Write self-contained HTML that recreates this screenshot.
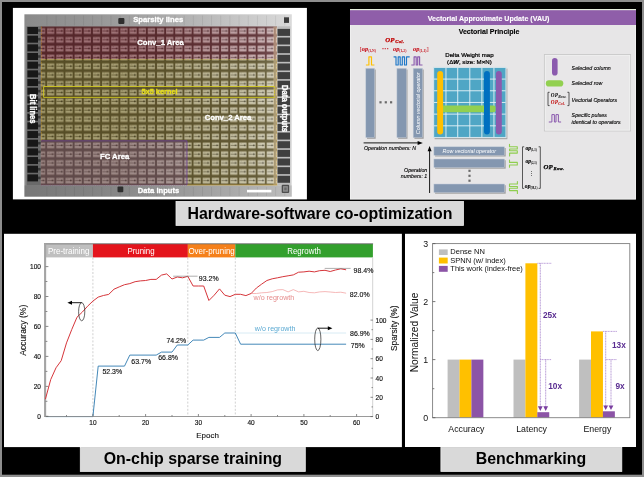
<!DOCTYPE html>
<html>
<head>
<meta charset="utf-8">
<title>Figure</title>
<style>
html,body{margin:0;padding:0;background:#000;}
body{width:644px;height:477px;overflow:hidden;position:relative;font-family:"Liberation Sans",sans-serif;}
svg{position:absolute;left:0;top:0;display:block;will-change:transform;}
text{font-family:"Liberation Sans",sans-serif;}
.ser{font-family:"Liberation Serif",serif;}
</style>
</head>
<body>
<svg width="644" height="477" viewBox="0 0 644 477">
<defs>
<pattern id="pr" patternUnits="userSpaceOnUse" x="37.05" y="26.65" width="9.15" height="8.8"><rect width="9.15" height="8.8" fill="#54272a"/><rect x="1.0" y="1.55" width="7.1" height="5.7" fill="#996b6f"/><rect x="1.3" y="3.8" width="6.5" height="1.1" fill="#6c3b3f"/><rect x="5.6" y="3.5" width="1.3" height="1.6" fill="#45191d"/><rect x="2.6" y="2.3" width="1.0" height="0.8" fill="#6c3b3f" opacity="0.6"/></pattern>
<pattern id="py" patternUnits="userSpaceOnUse" x="37.05" y="26.65" width="9.15" height="8.8"><rect width="9.15" height="8.8" fill="#574d26"/><rect x="1.0" y="1.55" width="7.1" height="5.7" fill="#a39a6e"/><rect x="1.3" y="3.8" width="6.5" height="1.1" fill="#6e653c"/><rect x="5.6" y="3.5" width="1.3" height="1.6" fill="#3e3618"/><rect x="2.6" y="2.3" width="1.0" height="0.8" fill="#6e653c" opacity="0.6"/></pattern>
<pattern id="pf" patternUnits="userSpaceOnUse" x="37.05" y="26.65" width="9.15" height="8.8"><rect width="9.15" height="8.8" fill="#5f4948"/><rect x="1.0" y="1.55" width="7.1" height="5.7" fill="#98827f"/><rect x="1.3" y="3.8" width="6.5" height="1.1" fill="#735d5b"/><rect x="5.6" y="3.5" width="1.3" height="1.6" fill="#4b3533"/><rect x="2.6" y="2.3" width="1.0" height="0.8" fill="#735d5b" opacity="0.6"/></pattern>
<linearGradient id="cg" x1="0" x2="1" y1="0" y2="0"><stop offset="0" stop-color="#8a8a8a"/><stop offset="0.3" stop-color="#999"/><stop offset="0.5" stop-color="#a8a8a8"/><stop offset="0.8" stop-color="#c6c6c6"/><stop offset="1" stop-color="#dadada"/></linearGradient>
<linearGradient id="cl" x1="0" x2="1" y1="0" y2="0"><stop offset="0" stop-color="#fff" stop-opacity="0"/><stop offset="0.5" stop-color="#fff" stop-opacity="0.02"/><stop offset="0.9" stop-color="#fff" stop-opacity="0.08"/><stop offset="1" stop-color="#fff" stop-opacity="0.2"/></linearGradient>
<filter id="cb" x="-2%" y="-2%" width="104%" height="104%"><feGaussianBlur stdDeviation="0.5"/></filter>
<pattern id="pw" patternUnits="userSpaceOnUse" x="37.05" y="26.65" width="9.15" height="8.8"><rect x="1.0" y="1.55" width="7.1" height="5.7" fill="#fff"/><rect x="1.6" y="3.9" width="5.9" height="0.9" fill="#000" opacity="0.35"/><rect x="5.6" y="3.5" width="1.3" height="1.6" fill="#000" opacity="0.5"/></pattern>
<linearGradient id="mg" gradientUnits="userSpaceOnUse" x1="40" x2="278" y1="0" y2="0"><stop offset="0" stop-color="#000"/><stop offset="0.35" stop-color="#080808"/><stop offset="0.7" stop-color="#383838"/><stop offset="1" stop-color="#707070"/></linearGradient>
<mask id="mm" maskUnits="userSpaceOnUse" x="38" y="24" width="244" height="166"><rect x="38" y="24" width="244" height="166" fill="url(#mg)"/></mask>
<clipPath id="cc"><rect x="40.8" y="26.6" width="236.2" height="158.4"/></clipPath>
<filter id="vb" x="-5%" y="-5%" width="110%" height="110%"><feGaussianBlur stdDeviation="0.25"/></filter>


</defs>
<!-- frame -->
<rect x="0" y="0" width="644" height="477" fill="#8e8e8e"/>
<rect x="2" y="2" width="640" height="472.7" fill="#000"/>
<!-- panels -->
<rect x="12.9" y="7.9" width="294" height="191.5" fill="#fff"/>
<rect x="350" y="9" width="286" height="190.4" fill="#e7e6e7"/>
<rect x="4" y="233.8" width="397.9" height="213.3" fill="#fff"/>
<rect x="405" y="233.8" width="231" height="213.2" fill="#fff"/>
<!-- label boxes -->
<rect x="176" y="201.4" width="287.5" height="24" fill="#d9d9d9" stroke="#eeeeee" stroke-width="0.8"/>
<rect x="80.3" y="447.5" width="225" height="23.9" fill="#d9d9d9" stroke="#eeeeee" stroke-width="0.8"/>
<rect x="440.9" y="447.5" width="180.9" height="23.9" fill="#d9d9d9" stroke="#eeeeee" stroke-width="0.8"/>
<g font-weight="bold" font-size="15.9" fill="#000" text-anchor="middle">
<text x="320" y="218.7">Hardware-software co-optimization</text>
<text x="192.9" y="464.3">On-chip sparse training</text>
<text x="531" y="464.3">Benchmarking</text>
</g>
<g>
<rect x="24.4" y="14.3" width="267.4" height="182.4" fill="url(#cg)"/>
<rect x="24.4" y="185.4" width="267.4" height="11.3" fill="#000" opacity="0.13"/>
<rect x="46.50" y="15.5" width="0.8" height="10" fill="#000" opacity="0.08"/>
<rect x="46.50" y="187" width="0.8" height="9" fill="#000" opacity="0.08"/>
<rect x="55.65" y="15.5" width="0.8" height="10" fill="#000" opacity="0.08"/>
<rect x="55.65" y="187" width="0.8" height="9" fill="#000" opacity="0.08"/>
<rect x="64.80" y="15.5" width="0.8" height="10" fill="#000" opacity="0.08"/>
<rect x="64.80" y="187" width="0.8" height="9" fill="#000" opacity="0.08"/>
<rect x="73.95" y="15.5" width="0.8" height="10" fill="#000" opacity="0.08"/>
<rect x="73.95" y="187" width="0.8" height="9" fill="#000" opacity="0.08"/>
<rect x="83.10" y="15.5" width="0.8" height="10" fill="#000" opacity="0.08"/>
<rect x="83.10" y="187" width="0.8" height="9" fill="#000" opacity="0.08"/>
<rect x="92.25" y="15.5" width="0.8" height="10" fill="#000" opacity="0.08"/>
<rect x="92.25" y="187" width="0.8" height="9" fill="#000" opacity="0.08"/>
<rect x="101.40" y="15.5" width="0.8" height="10" fill="#000" opacity="0.08"/>
<rect x="101.40" y="187" width="0.8" height="9" fill="#000" opacity="0.08"/>
<rect x="110.55" y="15.5" width="0.8" height="10" fill="#000" opacity="0.08"/>
<rect x="110.55" y="187" width="0.8" height="9" fill="#000" opacity="0.08"/>
<rect x="119.70" y="15.5" width="0.8" height="10" fill="#000" opacity="0.08"/>
<rect x="119.70" y="187" width="0.8" height="9" fill="#000" opacity="0.08"/>
<rect x="128.85" y="15.5" width="0.8" height="10" fill="#000" opacity="0.08"/>
<rect x="128.85" y="187" width="0.8" height="9" fill="#000" opacity="0.08"/>
<rect x="138.00" y="15.5" width="0.8" height="10" fill="#000" opacity="0.08"/>
<rect x="138.00" y="187" width="0.8" height="9" fill="#000" opacity="0.08"/>
<rect x="147.15" y="15.5" width="0.8" height="10" fill="#000" opacity="0.08"/>
<rect x="147.15" y="187" width="0.8" height="9" fill="#000" opacity="0.08"/>
<rect x="156.30" y="15.5" width="0.8" height="10" fill="#000" opacity="0.08"/>
<rect x="156.30" y="187" width="0.8" height="9" fill="#000" opacity="0.08"/>
<rect x="165.45" y="15.5" width="0.8" height="10" fill="#000" opacity="0.08"/>
<rect x="165.45" y="187" width="0.8" height="9" fill="#000" opacity="0.08"/>
<rect x="174.60" y="15.5" width="0.8" height="10" fill="#000" opacity="0.08"/>
<rect x="174.60" y="187" width="0.8" height="9" fill="#000" opacity="0.08"/>
<rect x="183.75" y="15.5" width="0.8" height="10" fill="#000" opacity="0.08"/>
<rect x="183.75" y="187" width="0.8" height="9" fill="#000" opacity="0.08"/>
<rect x="192.90" y="15.5" width="0.8" height="10" fill="#000" opacity="0.08"/>
<rect x="192.90" y="187" width="0.8" height="9" fill="#000" opacity="0.08"/>
<rect x="202.05" y="15.5" width="0.8" height="10" fill="#000" opacity="0.08"/>
<rect x="202.05" y="187" width="0.8" height="9" fill="#000" opacity="0.08"/>
<rect x="211.20" y="15.5" width="0.8" height="10" fill="#000" opacity="0.08"/>
<rect x="211.20" y="187" width="0.8" height="9" fill="#000" opacity="0.08"/>
<rect x="220.35" y="15.5" width="0.8" height="10" fill="#000" opacity="0.08"/>
<rect x="220.35" y="187" width="0.8" height="9" fill="#000" opacity="0.08"/>
<rect x="229.50" y="15.5" width="0.8" height="10" fill="#000" opacity="0.08"/>
<rect x="229.50" y="187" width="0.8" height="9" fill="#000" opacity="0.08"/>
<rect x="238.65" y="15.5" width="0.8" height="10" fill="#000" opacity="0.08"/>
<rect x="238.65" y="187" width="0.8" height="9" fill="#000" opacity="0.08"/>
<rect x="247.80" y="15.5" width="0.8" height="10" fill="#000" opacity="0.08"/>
<rect x="247.80" y="187" width="0.8" height="9" fill="#000" opacity="0.08"/>
<rect x="256.95" y="15.5" width="0.8" height="10" fill="#000" opacity="0.08"/>
<rect x="256.95" y="187" width="0.8" height="9" fill="#000" opacity="0.08"/>
<rect x="266.10" y="15.5" width="0.8" height="10" fill="#000" opacity="0.08"/>
<rect x="266.10" y="187" width="0.8" height="9" fill="#000" opacity="0.08"/>
<rect x="275.25" y="15.5" width="0.8" height="10" fill="#000" opacity="0.08"/>
<rect x="275.25" y="187" width="0.8" height="9" fill="#000" opacity="0.08"/>
<rect x="284.40" y="15.5" width="0.8" height="10" fill="#000" opacity="0.08"/>
<rect x="284.40" y="187" width="0.8" height="9" fill="#000" opacity="0.08"/>
<rect x="26.6" y="26.3" width="14.2" height="159" fill="#6a6a6a"/>
<rect x="27.4" y="27.00" width="10.6" height="7.0" fill="#181818"/>
<rect x="38" y="29.20" width="2.8" height="2.6" fill="#3a3a3a"/>
<rect x="27.4" y="35.67" width="10.6" height="7.0" fill="#181818"/>
<rect x="38" y="37.87" width="2.8" height="2.6" fill="#3a3a3a"/>
<rect x="27.4" y="44.34" width="10.6" height="7.0" fill="#181818"/>
<rect x="38" y="46.54" width="2.8" height="2.6" fill="#3a3a3a"/>
<rect x="27.4" y="53.01" width="10.6" height="7.0" fill="#181818"/>
<rect x="38" y="55.21" width="2.8" height="2.6" fill="#3a3a3a"/>
<rect x="27.4" y="61.68" width="10.6" height="7.0" fill="#181818"/>
<rect x="38" y="63.88" width="2.8" height="2.6" fill="#3a3a3a"/>
<rect x="27.4" y="70.35" width="10.6" height="7.0" fill="#181818"/>
<rect x="38" y="72.55" width="2.8" height="2.6" fill="#3a3a3a"/>
<rect x="27.4" y="79.02" width="10.6" height="7.0" fill="#181818"/>
<rect x="38" y="81.22" width="2.8" height="2.6" fill="#3a3a3a"/>
<rect x="27.4" y="87.69" width="10.6" height="7.0" fill="#181818"/>
<rect x="38" y="89.89" width="2.8" height="2.6" fill="#3a3a3a"/>
<rect x="27.4" y="96.36" width="10.6" height="7.0" fill="#181818"/>
<rect x="38" y="98.56" width="2.8" height="2.6" fill="#3a3a3a"/>
<rect x="27.4" y="105.03" width="10.6" height="7.0" fill="#181818"/>
<rect x="38" y="107.23" width="2.8" height="2.6" fill="#3a3a3a"/>
<rect x="27.4" y="113.70" width="10.6" height="7.0" fill="#181818"/>
<rect x="38" y="115.90" width="2.8" height="2.6" fill="#3a3a3a"/>
<rect x="27.4" y="122.37" width="10.6" height="7.0" fill="#181818"/>
<rect x="38" y="124.57" width="2.8" height="2.6" fill="#3a3a3a"/>
<rect x="27.4" y="131.04" width="10.6" height="7.0" fill="#181818"/>
<rect x="38" y="133.24" width="2.8" height="2.6" fill="#3a3a3a"/>
<rect x="27.4" y="139.71" width="10.6" height="7.0" fill="#181818"/>
<rect x="38" y="141.91" width="2.8" height="2.6" fill="#3a3a3a"/>
<rect x="27.4" y="148.38" width="10.6" height="7.0" fill="#181818"/>
<rect x="38" y="150.58" width="2.8" height="2.6" fill="#3a3a3a"/>
<rect x="27.4" y="157.05" width="10.6" height="7.0" fill="#181818"/>
<rect x="38" y="159.25" width="2.8" height="2.6" fill="#3a3a3a"/>
<rect x="27.4" y="165.72" width="10.6" height="7.0" fill="#181818"/>
<rect x="38" y="167.92" width="2.8" height="2.6" fill="#3a3a3a"/>
<rect x="27.4" y="174.39" width="10.6" height="7.0" fill="#181818"/>
<rect x="38" y="176.59" width="2.8" height="2.6" fill="#3a3a3a"/>
<rect x="277" y="26.3" width="13.3" height="159" fill="#bdbdbd"/>
<rect x="277.4" y="28.90" width="12.6" height="7.0" fill="#3f3f3f"/>
<rect x="277.4" y="37.54" width="12.6" height="7.0" fill="#3f3f3f"/>
<rect x="277.4" y="46.18" width="12.6" height="7.0" fill="#3f3f3f"/>
<rect x="277.4" y="54.82" width="12.6" height="7.0" fill="#3f3f3f"/>
<rect x="277.4" y="63.46" width="12.6" height="7.0" fill="#3f3f3f"/>
<rect x="277.4" y="72.10" width="12.6" height="7.0" fill="#3f3f3f"/>
<rect x="277.4" y="80.74" width="12.6" height="7.0" fill="#3f3f3f"/>
<rect x="277.4" y="89.38" width="12.6" height="7.0" fill="#3f3f3f"/>
<rect x="277.4" y="98.02" width="12.6" height="7.0" fill="#3f3f3f"/>
<rect x="277.4" y="106.66" width="12.6" height="7.0" fill="#3f3f3f"/>
<rect x="277.4" y="115.30" width="12.6" height="7.0" fill="#3f3f3f"/>
<rect x="277.4" y="123.94" width="12.6" height="7.0" fill="#3f3f3f"/>
<rect x="277.4" y="132.58" width="12.6" height="7.0" fill="#3f3f3f"/>
<rect x="277.4" y="141.22" width="12.6" height="7.0" fill="#3f3f3f"/>
<rect x="277.4" y="149.86" width="12.6" height="7.0" fill="#3f3f3f"/>
<rect x="277.4" y="158.50" width="12.6" height="7.0" fill="#3f3f3f"/>
<rect x="277.4" y="167.14" width="12.6" height="7.0" fill="#3f3f3f"/>
<rect x="277.4" y="175.78" width="12.6" height="7.0" fill="#3f3f3f"/>
<g clip-path="url(#cc)"><g filter="url(#cb)">
<rect x="38" y="24" width="242" height="35" fill="url(#pr)"/>
<rect x="38" y="59" width="242" height="129" fill="url(#py)"/>
<rect x="38" y="140.8" width="149" height="47" fill="url(#pf)"/>
<rect x="38" y="24" width="242" height="166" fill="url(#pw)" mask="url(#mm)"/>
</g></g>
<rect x="273.4" y="26.6" width="3.6" height="158.4" fill="#e8c890" opacity="0.45"/>
<rect x="40.8" y="26.3" width="236.9" height="158.9" fill="url(#cl)"/>
<path d="M41.3 59.4H276.8V185" fill="none" stroke="#c9a23a" stroke-width="0.7" stroke-dasharray="2 0.8" opacity="0.6"/>
<path d="M41.4 26.5V140.8" fill="none" stroke="#c9962e" stroke-width="0.8" stroke-dasharray="2.2 1" opacity="0.65"/>
<path d="M187 185H277.4" fill="none" stroke="#c9a23a" stroke-width="0.9" opacity="0.8"/>
<path d="M41 140.8H187V185" fill="none" stroke="#6b3e96" stroke-width="0.9" opacity="0.9"/>
<path d="M41 185.1H187" fill="none" stroke="#8a4a7a" stroke-width="0.7" stroke-dasharray="1.2 1" opacity="0.8"/>
<path d="M274.6 86.5H43.6V97.4H274.6" fill="none" stroke="#d6cc1e" stroke-width="0.9" opacity="0.95"/><path d="M274.6 86.5V97.4" fill="none" stroke="#d6cc1e" stroke-width="0.9" stroke-dasharray="1.5 1"/>
<rect x="118.3" y="18" width="6.1" height="6" rx="1" fill="#2e2e2e"/>
<rect x="117.5" y="186.6" width="5.8" height="5.6" rx="1" fill="#2e2e2e"/>
<rect x="284" y="17.3" width="5" height="5.6" fill="#3c3c3c"/>
<rect x="281.7" y="184.8" width="7.5" height="8.2" rx="1" fill="#4e4e4e"/><rect x="283" y="186.1" width="4.9" height="5.6" fill="#8e8e8e"/><rect x="284.3" y="187.5" width="2.3" height="2.8" fill="#6a6a6a"/>
<rect x="247" y="189.8" width="24.4" height="2.6" fill="#fff"/>
<g font-weight="bold" text-anchor="middle" stroke-width="0.3" stroke-linejoin="round" class="lb">
<text transform="translate(158.2 21.8) scale(1 1.04)" font-size="7.7" fill="#fff" stroke="#fff">Sparsity lines</text>
<text transform="translate(160.5 45.3) scale(1 1.04)" font-size="7.7" fill="#fff" stroke="#fff">Conv_1 Area</text>
<text transform="translate(228 120) scale(1 1.04)" font-size="7.7" fill="#fff" stroke="#fff">Conv_2 Area</text>
<text transform="translate(114.6 159) scale(1 1.04)" font-size="7.7" fill="#fff" stroke="#fff">FC Area</text>
<text transform="translate(158.5 193.4) scale(1 1.04)" font-size="7.6" fill="#fff" stroke="#fff">Data inputs</text>
<text transform="translate(159.5 94.2) scale(1 1.04)" font-size="7.4" fill="#e6de1c" stroke="#e6de1c">5x5 kernel</text>
<text transform="translate(30.2 108.8) rotate(90) scale(1 1.16)" font-size="7.6" fill="#fff" stroke="#fff">Bit lines</text>
<text transform="translate(281.6 108.5) rotate(90) scale(1 1.16)" font-size="7.7" fill="#fff" stroke="#fff">Data outputs</text>
</g>
</g>
<g>
<rect x="350.4" y="9.4" width="285.2" height="189.6" fill="none" stroke="#f2f2f2" stroke-width="0.8"/>
<rect x="350" y="9" width="286" height="1.2" fill="#e4eedc"/>
<rect x="350" y="10.2" width="286" height="14.8" fill="#8f5ea9"/>
<text x="488.6" y="20.7" font-weight="bold" font-size="7.1" fill="#fff" stroke="#fff" stroke-width="0.12" text-anchor="middle">Vectorial Approximate Update (VAU)</text>
<text x="489" y="33.8" font-weight="bold" font-size="7" fill="#000" stroke="#000" stroke-width="0.12" text-anchor="middle">Vectorial Principle</text>
<text class="ser" x="385.2" y="41.5" font-weight="bold" font-style="italic" font-size="6.8" fill="#c00000" stroke="#c00000" stroke-width="0.25" letter-spacing="0.25">OP<tspan font-size="4.7" dy="1.1" dx="0.6" letter-spacing="0.25">Col.</tspan></text>
<text class="ser" x="359.6" y="51.2" font-size="6.3" fill="#c8141e" stroke="#c8141e" stroke-width="0.12" text-anchor="start" font-weight="bold" font-style="italic"><tspan font-style="normal" font-weight="normal" font-size="6.7" stroke-width="0">[</tspan>op<tspan font-size="3.7" dy="1.0" font-style="normal" stroke-width="0">(1,N)</tspan><tspan dy="-1.0" font-style="normal" font-weight="normal" font-size="6.7" stroke-width="0"></tspan></text>
<text x="385.6" y="50.6" font-size="7" font-weight="bold" fill="#c8141e" text-anchor="middle" letter-spacing="0.1">···</text>
<text class="ser" x="393" y="51.2" font-size="6.3" fill="#c8141e" stroke="#c8141e" stroke-width="0.12" text-anchor="start" font-weight="bold" font-style="italic"><tspan font-style="normal" font-weight="normal" font-size="6.7" stroke-width="0"></tspan>op<tspan font-size="3.7" dy="1.0" font-style="normal" stroke-width="0">(1,2)</tspan><tspan dy="-1.0" font-style="normal" font-weight="normal" font-size="6.7" stroke-width="0"></tspan></text>
<text class="ser" x="413.1" y="51.2" font-size="6.3" fill="#c8141e" stroke="#c8141e" stroke-width="0.12" text-anchor="start" font-weight="bold" font-style="italic"><tspan font-style="normal" font-weight="normal" font-size="6.7" stroke-width="0"></tspan>op<tspan font-size="3.7" dy="1.0" font-style="normal" stroke-width="0">(1,1)</tspan><tspan dy="-1.0" font-style="normal" font-weight="normal" font-size="6.7" stroke-width="0">]</tspan></text>
<g fill="none" stroke-width="1.15" stroke-linejoin="round">
<path d="M365.9 65H368.9V56.8H371.5V65H374.4" stroke="#ffc000"/>
<path d="M393.6 56.8H396V65H398.2V56.8H400.2V65H402.3V56.8H404.5V65H406.5V56.8H409.7" stroke="#1f78c8"/>
<path d="M411.3 65H414.1V56.8H416.2V65H417.7V56.8H419.6V65H422.5" stroke="#8b5aae"/>
</g>
<rect x="367.0" y="69.5" width="8.7" height="69.3" fill="#8e8e8e" opacity="0.8"/><rect x="365.8" y="68.3" width="8.7" height="69.3" fill="#8497b0" stroke="#c3ccd9" stroke-width="0.5"/>
<rect x="398.09999999999997" y="69.5" width="9.4" height="69.3" fill="#8e8e8e" opacity="0.8"/><rect x="396.9" y="68.3" width="9.4" height="69.3" fill="#8497b0" stroke="#c3ccd9" stroke-width="0.5"/>
<rect x="414.4" y="69.5" width="9.3" height="69.3" fill="#8e8e8e" opacity="0.8"/><rect x="413.2" y="68.3" width="9.3" height="69.3" fill="#8497b0" stroke="#c3ccd9" stroke-width="0.5"/>
<rect x="379.4" y="101.2" width="2.2" height="2.2" fill="#6a6a6a"/>
<rect x="384.7" y="101.2" width="2.2" height="2.2" fill="#6a6a6a"/>
<rect x="390.0" y="101.2" width="2.2" height="2.2" fill="#6a6a6a"/>
<text transform="translate(419.6 134.2) rotate(-90)" font-size="5.4" font-style="italic" fill="#fff">Column vectorial operator</text>
<rect x="434.6" y="68.6" width="72.8" height="70.6" fill="#8c8c8c" opacity="0.7"/>
<rect x="433.6" y="67.4" width="72.4" height="70.1" fill="#4fa6c5" stroke="#d3e4eb" stroke-width="1.1"/>
<path d="M445.97 67.8V137.2 M434 79.08H505.6 M457.73 67.8V137.2 M434 90.77H505.6 M469.80 67.8V137.2 M434 102.45H505.6 M481.87 67.8V137.2 M434 114.13H505.6 M493.93 67.8V137.2 M434 125.82H505.6" stroke="#e6f4f8" stroke-width="0.9" fill="none"/>
<rect x="436.8" y="105.6" width="58.8" height="6.6" rx="2" fill="#92d050"/>
<rect x="437.2" y="70.9" width="5.9" height="63.6" rx="2.95" fill="#ffc000"/>
<rect x="484" y="70.9" width="5.9" height="63.6" rx="2.95" fill="#0070c0"/>
<rect x="495.9" y="70.9" width="5.9" height="63.6" rx="2.95" fill="#8b5aae"/>
<text x="469.4" y="57" font-size="6.1" fill="#000" text-anchor="middle" stroke="#000" stroke-width="0.22">Delta Weight map</text>
<text x="469.4" y="64" font-size="6.1" fill="#000" text-anchor="middle" stroke="#000" stroke-width="0.22">(Δ<tspan font-weight="bold" font-style="italic">W</tspan>, size: M×N)</text>
<path d="M363.6 142.9H419" stroke="#000" stroke-width="0.9" fill="none"/><path d="M422.8 142.9L417.6 140.9V144.9Z" fill="#000"/>
<path d="M429.6 193V150" stroke="#000" stroke-width="0.9" fill="none"/><path d="M429.6 146L427.6 151.2H431.6Z" fill="#000"/>
<text x="364" y="150.4" font-size="5.3" font-style="italic" fill="#000" stroke="#000" stroke-width="0.12">Operation numbers: N</text>
<text x="427.3" y="171.8" font-size="5.3" font-style="italic" fill="#000" text-anchor="end" stroke="#000" stroke-width="0.12">Operation</text>
<text x="427.3" y="178.1" font-size="5.3" font-style="italic" fill="#000" text-anchor="end" stroke="#000" stroke-width="0.12">numbers: 1</text>
<rect x="435.09999999999997" y="148.0" width="70.6" height="8.5" fill="#8e8e8e" opacity="0.8"/><rect x="433.9" y="146.8" width="70.6" height="8.5" fill="#8497b0" stroke="#c3ccd9" stroke-width="0.5"/>
<rect x="435.09999999999997" y="160.2" width="70.6" height="8.5" fill="#8e8e8e" opacity="0.8"/><rect x="433.9" y="159" width="70.6" height="8.5" fill="#8497b0" stroke="#c3ccd9" stroke-width="0.5"/>
<rect x="435.09999999999997" y="185.2" width="70.6" height="8.5" fill="#8e8e8e" opacity="0.8"/><rect x="433.9" y="184" width="70.6" height="8.5" fill="#8497b0" stroke="#c3ccd9" stroke-width="0.5"/>
<text x="469.3" y="152.8" font-size="5.35" font-style="italic" fill="#fff" text-anchor="middle">Row vectorial operator</text>
<rect x="468.4" y="169.70000000000002" width="2.2" height="2.2" fill="#6a6a6a"/>
<rect x="468.4" y="174.70000000000002" width="2.2" height="2.2" fill="#6a6a6a"/>
<rect x="468.4" y="179.6" width="2.2" height="2.2" fill="#6a6a6a"/>
<g fill="none" stroke="#8fce4e" stroke-width="1.1" stroke-linejoin="round" stroke-linecap="round">
<path d="M509.5 144.3V146.7H517.3V149H509.6V150.8H517.3V153.1H509.6V156"/>
<path d="M509.5 160V162.4H517.3V165H509.5V167.2"/>
<path d="M517.4 181.6V184H509.5V186.5H517.4V188.2H509.5V190.6H517.4V193.5"/>
</g>
<path d="M524.2 146.8H522.5V188.4H524.2M538.6 146.8H540.3V188.4H538.6" fill="none" stroke="#333" stroke-width="0.8"/>
<text class="ser" x="531.2" y="149.8" font-size="5.6" fill="#000" stroke="#000" stroke-width="0.12" text-anchor="middle" font-weight="bold" font-style="italic"><tspan font-style="normal" font-weight="normal" font-size="6.0" stroke-width="0"></tspan>op<tspan font-size="3.0" dy="1.0" font-style="normal" stroke-width="0">(1,1)</tspan><tspan dy="-1.0" font-style="normal" font-weight="normal" font-size="6.0" stroke-width="0"></tspan></text>
<text class="ser" x="531.2" y="163.3" font-size="5.6" fill="#000" stroke="#000" stroke-width="0.12" text-anchor="middle" font-weight="bold" font-style="italic"><tspan font-style="normal" font-weight="normal" font-size="6.0" stroke-width="0"></tspan>op<tspan font-size="3.0" dy="1.0" font-style="normal" stroke-width="0">(2,1)</tspan><tspan dy="-1.0" font-style="normal" font-weight="normal" font-size="6.0" stroke-width="0"></tspan></text>
<text class="ser" x="531.2" y="188.3" font-size="5.6" fill="#000" stroke="#000" stroke-width="0.12" text-anchor="middle" font-weight="bold" font-style="italic"><tspan font-style="normal" font-weight="normal" font-size="6.0" stroke-width="0"></tspan>op<tspan font-size="3.0" dy="1.0" font-style="normal" stroke-width="0">(M,1)</tspan><tspan dy="-1.0" font-style="normal" font-weight="normal" font-size="6.0" stroke-width="0"></tspan></text>
<text x="531.2" y="175" font-size="5" fill="#000" text-anchor="middle">⋮</text>
<text class="ser" x="543.4" y="168.8" font-weight="bold" font-style="italic" font-size="6.8" fill="#000" stroke="#000" stroke-width="0.25" letter-spacing="0.25">OP<tspan font-size="4.7" dy="1.3" dx="0.6" letter-spacing="0.25">Row.</tspan></text>
<rect x="544.4" y="54.5" width="86.2" height="76.5" fill="#e8e7e8" stroke="#c9c9c9" stroke-width="0.9"/><rect x="545.3" y="55.4" width="84.4" height="74.7" fill="none" stroke="#f1f1f1" stroke-width="0.7"/>
<rect x="552" y="57.9" width="5.6" height="17.6" rx="2.8" fill="#8b5aae"/>
<rect x="545.8" y="80.3" width="17.5" height="6.2" rx="3.1" fill="#92d050"/>
<g font-size="5.3" font-style="italic" fill="#000" stroke="#000" stroke-width="0.12">
<text x="571.6" y="69.5">Selected column</text>
<text x="571.6" y="84.9">Selected row</text>
<text x="571.6" y="101.6">Vectorial Operators</text>
<text x="571.6" y="117.4">Specific pulses</text>
<text x="571.6" y="123.6">identical to operators</text>
</g>
<path d="M549.6 92.3H548V105.6H549.6M567.4 92.3H569V105.6H567.4" fill="none" stroke="#333" stroke-width="0.8"/>
<text class="ser" x="550.8" y="97" font-weight="bold" font-style="italic" font-size="5.2" fill="#000" letter-spacing="0.2">OP<tspan font-size="3.8" dy="0.9">Row.</tspan></text>
<text class="ser" x="550.8" y="103.9" font-weight="bold" font-style="italic" font-size="5.2" fill="#c00000" letter-spacing="0.2">OP<tspan font-size="3.8" dy="0.9">Col.</tspan></text>
<path d="M548.8 122H551.9V114.6H554.4V122H556V114.6H558.4V122H561.1" fill="none" stroke="#8b5aae" stroke-width="1" stroke-linejoin="round"/>
</g>
<g>
<rect x="45.4" y="243.9" width="47.5" height="13.5" fill="#bfbfbf"/>
<rect x="92.9" y="243.9" width="95.0" height="13.5" fill="#e4141c"/>
<rect x="187.8" y="243.9" width="47.5" height="13.5" fill="#f5801a"/>
<rect x="235.3" y="243.9" width="137.6" height="13.5" fill="#33a02d"/>
<g font-size="9" fill="#fff" lengthAdjust="spacingAndGlyphs">
<text x="47.9" y="253.9" textLength="41.6" lengthAdjust="spacingAndGlyphs">Pre-training</text>
<text x="127.4" y="253.9" textLength="27.2" lengthAdjust="spacingAndGlyphs">Pruning</text>
<text x="188.4" y="253.9" textLength="46.4" lengthAdjust="spacingAndGlyphs">Over-pruning</text>
<text x="287.2" y="253.9" textLength="33.8" lengthAdjust="spacingAndGlyphs">Regrowth</text>
</g>
<path d="M44 243.8H373.1" stroke="#6a6a6a" stroke-width="0.9" fill="none"/>
<path d="M92.9 257.6V416" stroke="#b8b8b8" stroke-width="0.65" stroke-dasharray="2 1.6" fill="none"/>
<path d="M187.8 257.6V416" stroke="#b8b8b8" stroke-width="0.65" stroke-dasharray="2 1.6" fill="none"/>
<path d="M235.3 257.6V416" stroke="#b8b8b8" stroke-width="0.65" stroke-dasharray="2 1.6" fill="none"/>
<g fill="#111" stroke="#111" stroke-width="0.15">
<text transform="translate(40.9 418.8) scale(0.92 1)" text-anchor="end" font-size="7.1" >0</text>
<text transform="translate(40.9 388.9) scale(0.92 1)" text-anchor="end" font-size="7.1" >20</text>
<text transform="translate(40.9 358.9) scale(0.92 1)" text-anchor="end" font-size="7.1" >40</text>
<text transform="translate(40.9 328.9) scale(0.92 1)" text-anchor="end" font-size="7.1" >60</text>
<text transform="translate(40.9 299.0) scale(0.92 1)" text-anchor="end" font-size="7.1" >80</text>
<text transform="translate(40.9 269.1) scale(0.92 1)" text-anchor="end" font-size="7.1" >100</text>
<text transform="translate(375.6 419.1) scale(0.92 1)" text-anchor="start" font-size="7.1" >0</text>
<text transform="translate(375.6 399.8) scale(0.92 1)" text-anchor="start" font-size="7.1" >20</text>
<text transform="translate(375.6 380.5) scale(0.92 1)" text-anchor="start" font-size="7.1" >40</text>
<text transform="translate(375.6 361.2) scale(0.92 1)" text-anchor="start" font-size="7.1" >60</text>
<text transform="translate(375.6 341.9) scale(0.92 1)" text-anchor="start" font-size="7.1" >80</text>
<text transform="translate(375.6 322.6) scale(0.92 1)" text-anchor="start" font-size="7.1" >100</text>
<text transform="translate(92.9 425.2) scale(0.92 1)" text-anchor="middle" font-size="7.1" >10</text>
<text transform="translate(145.6 425.2) scale(0.92 1)" text-anchor="middle" font-size="7.1" >20</text>
<text transform="translate(198.4 425.2) scale(0.92 1)" text-anchor="middle" font-size="7.1" >30</text>
<text transform="translate(251.1 425.2) scale(0.92 1)" text-anchor="middle" font-size="7.1" >40</text>
<text transform="translate(303.9 425.2) scale(0.92 1)" text-anchor="middle" font-size="7.1" >50</text>
<text transform="translate(356.6 425.2) scale(0.92 1)" text-anchor="middle" font-size="7.1" >60</text>
</g>
<text x="207.6" y="437.8" font-size="8" fill="#111" stroke="#111" stroke-width="0.12" text-anchor="middle">Epoch</text>
 <text transform="translate(26 330.2) rotate(-90)" font-size="8.6" fill="#111" stroke="#111" stroke-width="0.12" text-anchor="middle">Accuracy (%)</text>
<text transform="translate(397 328.3) rotate(-90)" font-size="8.4" fill="#111" stroke="#111" stroke-width="0.12" text-anchor="middle">Sparsity (%)</text>
<polyline points="251.1,293.5 256.4,293.5 261.7,292.8 266.9,292.5 272.2,291.6 277.5,289.9 282.8,289.6 288.1,291.9 293.3,289.6 298.6,291.9 303.9,291.3 309.1,292.5 314.4,292.8 319.7,291.9 325.0,291.6 330.2,292.0 335.5,292.5 340.8,292.2 346.1,293.2" fill="none" stroke="#f2a6a6" stroke-width="0.8" stroke-linejoin="round"/>
<path d="M235.3 333.0H346.1" stroke="#c4e0ee" stroke-width="0.65" fill="none"/>
<polyline points="45.4,416.6 92.9,416.6 98.2,366.1 124.5,366.1 129.8,355.1 156.2,355.1 161.5,352.1 172.0,352.1 177.3,345.0 187.8,345.0 193.1,340.1 203.7,340.1 208.9,337.4 219.5,337.4 224.8,333.0 235.3,333.0 240.6,344.2 346.1,344.2" fill="none" stroke="#3a82b4" stroke-width="0.95" stroke-linejoin="round"/>
<path d="M372.7 416.5V257.4" stroke="#c6c6c6" stroke-width="0.8" fill="none"/>
<path d="M44 416.5H373.1" stroke="#8e8e8e" stroke-width="0.9" fill="none"/>
<path d="M45.1 243.4V416.9" stroke="#a4a4a4" stroke-width="2.1" fill="none"/>
<path d="M45.6 416.3h2.8 M45.6 401.3h1.7999999999999998 M45.6 386.4h2.8 M45.6 371.4h1.7999999999999998 M45.6 356.4h2.8 M45.6 341.4h1.7999999999999998 M45.6 326.4h2.8 M45.6 311.5h1.7999999999999998 M45.6 296.5h2.8 M45.6 281.5h1.7999999999999998 M45.6 266.6h2.8 M372.9 416.6h-2.4 M372.9 406.9h-1.4 M372.9 397.3h-2.4 M372.9 387.6h-1.4 M372.9 378.0h-2.4 M372.9 368.3h-1.4 M372.9 358.7h-2.4 M372.9 349.0h-1.4 M372.9 339.4h-2.4 M372.9 329.7h-1.4 M372.9 320.1h-2.4 M66.5 416.4v-1.4 M92.9 416.4v-2.4 M119.2 416.4v-1.4 M145.6 416.4v-2.4 M172.0 416.4v-1.4 M198.4 416.4v-2.4 M224.8 416.4v-1.4 M251.1 416.4v-2.4 M277.5 416.4v-1.4 M303.9 416.4v-2.4 M330.2 416.4v-1.4 M356.6 416.4v-2.4" stroke="#5a5a5a" stroke-width="0.7" fill="none"/>
<polyline points="45.4,399.2 50.7,379.6 56.0,367.8 61.2,360.7 66.5,342.9 71.8,329.4 77.0,317.2 82.3,312.1 87.6,306.2 92.9,301.1 98.2,297.1 103.4,295.5 108.7,294.4 114.0,289.2 119.2,286.9 124.5,284.7 129.8,283.6 135.1,281.7 140.3,280.9 145.6,280.5 150.9,279.4 156.2,279.4 161.5,275.1 166.7,273.9 172.0,279.0 177.3,277.0 182.6,277.8 187.8,276.3 193.1,286.0 198.4,286.0 203.7,286.0 208.9,300.5 214.2,295.2 219.5,288.9 224.8,295.2 230.0,296.6 235.3,294.3 240.6,294.3 245.9,295.6 251.1,293.5 256.4,288.0 261.7,284.1 266.9,280.5 272.2,278.8 277.5,277.8 282.8,276.7 288.1,275.8 293.3,274.9 298.6,272.2 303.9,271.9 309.1,271.2 314.4,271.9 319.7,270.7 325.0,270.3 330.2,271.5 335.5,270.0 340.8,268.8 346.1,269.8" fill="none" stroke="#d6353a" stroke-width="1.0" stroke-linejoin="round"/>
<path d="M173.2 276.2H197.6M324.7 268.4H350.6" stroke="#777" stroke-width="0.6" fill="none"/>
<g fill="#111" stroke="#111" stroke-width="0.15">
<text transform="translate(198.8 280.7) scale(0.92 1)" text-anchor="start" font-size="7.6" >93.2%</text>
<text transform="translate(353.6 273.0) scale(0.92 1)" text-anchor="start" font-size="7.6" >98.4%</text>
<text transform="translate(349.8 296.9) scale(0.92 1)" text-anchor="start" font-size="7.6" >82.0%</text>
<text transform="translate(350.0 336.4) scale(0.92 1)" text-anchor="start" font-size="7.6" >86.9%</text>
<text transform="translate(350.8 348.2) scale(0.92 1)" text-anchor="start" font-size="7.6" >75%</text>
<text transform="translate(102.4 373.6) scale(0.92 1)" text-anchor="start" font-size="7.6" >52.3%</text>
<text transform="translate(131.3 363.5) scale(0.92 1)" text-anchor="start" font-size="7.6" >63.7%</text>
<text transform="translate(158.2 360.4) scale(0.92 1)" text-anchor="start" font-size="7.6" >66.8%</text>
<text transform="translate(166.4 343.1) scale(0.92 1)" text-anchor="start" font-size="7.6" >74.2%</text>
</g>
<text x="253.6" y="300.1" font-size="7.1" fill="#e58a8a">w/o regrowth</text>
<text x="254.8" y="331.3" font-size="7.1" fill="#5aa9d2">w/o regrowth</text>
<ellipse cx="81.7" cy="311.7" rx="3.1" ry="9.1" fill="none" stroke="#222" stroke-width="0.7"/>
<path d="M81.7 302.7H71" stroke="#000" stroke-width="0.9" fill="none"/><path d="M67.4 302.7L72 300.7V304.7Z" fill="#000"/>
<ellipse cx="317.8" cy="339.3" rx="3.1" ry="11.3" fill="none" stroke="#222" stroke-width="0.7"/>
<path d="M317.8 328.2H329" stroke="#000" stroke-width="0.9" fill="none"/><path d="M332.4 328.2L327.8 326.2V330.2Z" fill="#000"/>
</g>
<g>
<rect x="447.6" y="359.6" width="11.95" height="58.0" fill="#bfbfbf"/>
<rect x="459.5" y="359.6" width="11.95" height="58.0" fill="#ffc000"/>
<rect x="471.4" y="359.6" width="11.95" height="58.0" fill="#8c54a6"/>
<rect x="513.5" y="359.6" width="11.95" height="58.0" fill="#bfbfbf"/>
<rect x="525.4" y="263.3" width="11.95" height="154.4" fill="#ffc000"/>
<rect x="537.3" y="412.2" width="11.95" height="5.5" fill="#8c54a6"/>
<rect x="579.1" y="359.6" width="11.95" height="58.0" fill="#bfbfbf"/>
<rect x="591.0" y="331.4" width="11.95" height="86.3" fill="#ffc000"/>
<rect x="602.9" y="411.3" width="11.95" height="6.4" fill="#8c54a6"/>
<rect x="432.6" y="243.6" width="197.2" height="174.1" fill="none" stroke="#7f7f7f" stroke-width="0.9"/>
<path d="M432.6 417.7h2.8 M432.6 388.7h1.7 M432.6 359.6h2.8 M432.6 330.6h1.7 M432.6 301.6h2.8 M432.6 272.6h1.7 M432.6 243.6h2.8" stroke="#555" stroke-width="0.8" fill="none"/>
<g font-size="8.8" fill="#111" text-anchor="end">
<text x="428.2" y="420.9">0</text>
<text x="428.2" y="362.8">1</text>
<text x="428.2" y="304.8">2</text>
<text x="428.2" y="246.8">3</text>
</g>
<g font-size="8.8" fill="#111" text-anchor="middle">
<text x="466.4" y="431.9">Accuracy</text>
<text x="531.6" y="431.9">Latency</text>
<text x="597.4" y="431.9">Energy</text>
</g>
<text transform="translate(417.5 332.5) rotate(-90)" font-size="10.2" fill="#111" text-anchor="middle">Normalized Value</text>
<rect x="438.9" y="249.4" width="8.8" height="5.6" fill="#bfbfbf"/>
<rect x="438.9" y="257.6" width="8.8" height="5.9" fill="#ffc000"/>
<rect x="438.9" y="265.9" width="8.8" height="5.9" fill="#8c54a6"/>
<g font-size="7.5" fill="#111">
<text x="450.3" y="254.4">Dense NN</text>
<text x="450.3" y="263.1">SPNN (w/ index)</text>
<text x="450.3" y="271.4">This work (index-free)</text>
</g>
<path d="M537.4 263.3H551.6M540.3 359.6H551.6" stroke="#8e5fbe" stroke-width="0.7" fill="none" opacity="0.85" stroke-dasharray="1.1 0.5"/><path d="M540.3 263.3V407.9M545.7 359.6V407.9" stroke="#8e5fbe" stroke-width="0.7" fill="none" opacity="0.9" stroke-dasharray="1.1 0.5"/><path d="M540.3 410.9L537.9 406.3H542.6999999999999Z" fill="#7a3fa0"/><path d="M545.7 410.9L543.3000000000001 406.3H548.1Z" fill="#7a3fa0"/>
<path d="M603 331.4H617M605.7 359.6H617" stroke="#8e5fbe" stroke-width="0.7" fill="none" opacity="0.85" stroke-dasharray="1.1 0.5"/><path d="M605.7 331.4V407.0M611 359.6V407.0" stroke="#8e5fbe" stroke-width="0.7" fill="none" opacity="0.9" stroke-dasharray="1.1 0.5"/><path d="M605.7 410.0L603.3000000000001 405.4H608.1Z" fill="#7a3fa0"/><path d="M611 410.0L608.6 405.4H613.4Z" fill="#7a3fa0"/>
<g font-size="8.3" font-weight="bold" fill="#5a2d91">
<text x="542.9" y="317.7">25x</text>
<text x="548.2" y="388.7">10x</text>
<text x="612" y="347.6">13x</text>
<text x="615.4" y="388.7">9x</text>
</g>
</g>
</svg>
</body>
</html>
